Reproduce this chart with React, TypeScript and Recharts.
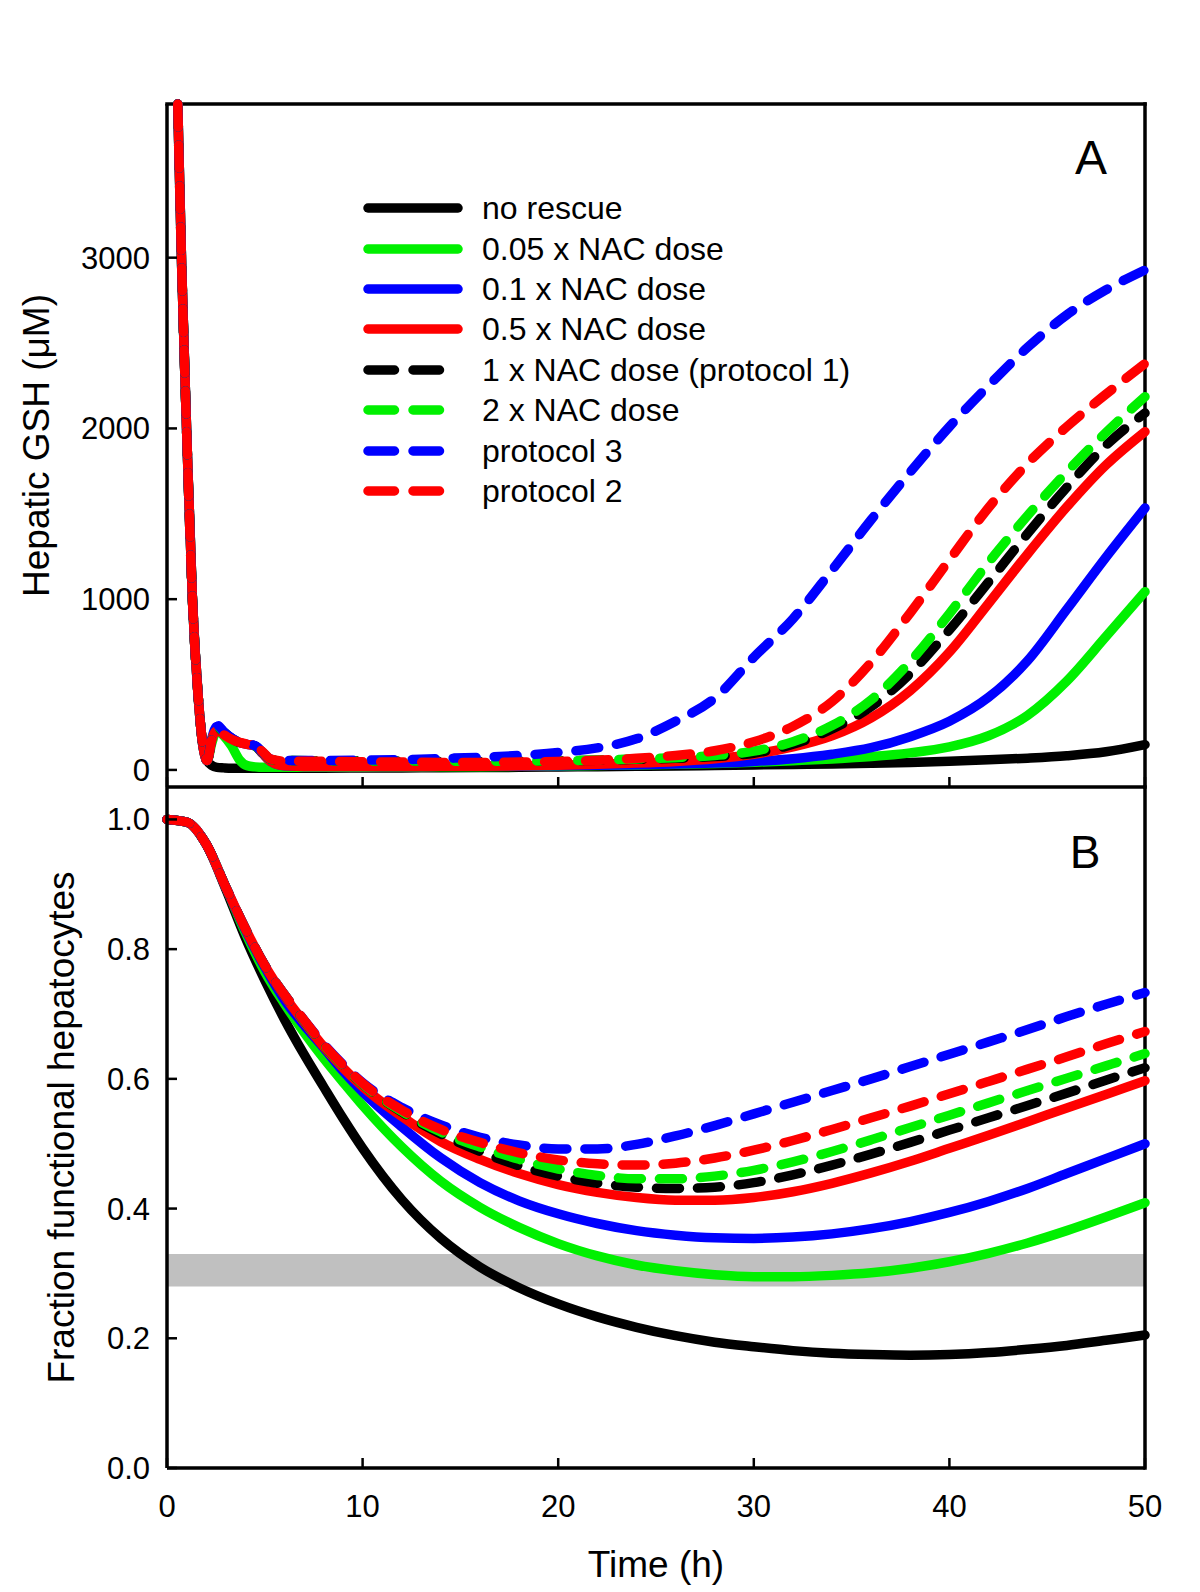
import React from "react";
import {
  LineChart, Line, XAxis, YAxis, ReferenceLine, ReferenceArea,
  Legend, Label, Customized,
} from "recharts";

const FONT = "'Liberation Sans', Arial, Helvetica, sans-serif";

// Panel A: hepatic GSH (uM) vs time (h)
const timeA = [
  0.55, 0.75, 1.0, 1.3, 1.6, 1.85, 2.05, 2.3, 2.55, 2.9, 3.3, 3.7, 4.1, 4.5, 4.9, 5.3,
  6, 8, 10, 12, 14, 16, 18, 20, 22, 24, 26, 28, 30, 32, 34, 36, 38, 40, 42, 44, 46, 48, 50,
];
const gshNoRescue = [
  3900, 2950, 2000, 1000, 420, 130, 55, 25, 15, 12, 10, 10, 10, 10, 10, 10,
  10, 10, 11, 12, 13, 14, 15, 17, 19, 21, 23, 26, 29, 32, 35, 39, 44, 51, 59, 69, 83, 106, 148,
];
const gshNac005 = [
  3900, 2950, 2000, 1000, 420, 130, 55, 160, 235, 200, 140, 60, 25, 18, 15, 15,
  15, 15, 16, 17, 18, 19, 21, 23, 26, 29, 33, 38, 45, 54, 64, 78, 100, 135, 200, 320, 520, 780, 1044,
];
const gshNac01 = [
  3900, 2950, 2000, 1000, 420, 130, 55, 190, 255, 220, 185, 160, 150, 140, 95, 50,
  25, 20, 20, 20, 21, 22, 23, 25, 27, 30, 34, 40, 50, 66, 92, 130, 195, 285, 425, 640, 940, 1245, 1534,
];
const gshNac05 = [
  3900, 2950, 2000, 1000, 420, 130, 55, 185, 230, 210, 180, 160, 150, 140, 95, 50,
  25, 20, 20, 20, 21, 22, 24, 28, 33, 40, 50, 66, 92, 135, 200, 305, 465, 690, 975, 1265, 1540, 1785, 1981,
];
const gshNac1 = [
  3900, 2950, 2000, 1000, 420, 130, 55, 190, 250, 220, 185, 160, 150, 140, 100, 62,
  55, 54, 53, 52, 51, 51, 52, 54, 57, 62, 68, 78, 98, 150, 240, 370, 565, 820, 1100, 1385, 1655, 1900, 2090,
];
const gshNac2 = [
  3900, 2950, 2000, 1000, 420, 130, 55, 195, 255, 222, 185, 160, 150, 140, 100, 62,
  55, 54, 53, 52, 51, 51, 52, 54, 58, 64, 72, 85, 110, 165, 260, 410, 635, 915, 1215, 1490, 1745, 1975, 2186,
];
const gshProt3 = [
  3900, 2950, 2000, 1000, 420, 130, 55, 195, 262, 225, 188, 162, 152, 142, 102, 64,
  56, 55, 57, 60, 67, 74, 85, 102, 129, 182, 285, 420, 660, 885, 1170, 1465, 1745, 2010, 2250, 2475, 2665, 2811, 2928,
];
const gshProt2 = [
  3900, 2950, 2000, 1000, 420, 130, 55, 180, 222, 205, 180, 162, 152, 145, 105, 64,
  52, 50, 48, 46, 44, 44, 46, 49, 56, 68, 85, 112, 165, 255, 400, 630, 920, 1230, 1535, 1795, 2010, 2200, 2380,
];

// Panel B: fraction of functional hepatocytes vs time (h)
const timeB = [
  0, 1, 2, 3, 4, 5, 6, 7, 8, 9, 10, 12, 14, 16, 18, 20, 22, 24, 26, 28, 30,
  32, 34, 36, 38, 40, 42, 44, 46, 48, 50,
];
const fracNoRescue = [
  1.0, 0.996, 0.962, 0.893, 0.818, 0.752, 0.692, 0.638, 0.588, 0.539, 0.493,
  0.414, 0.354, 0.310, 0.278, 0.253, 0.233, 0.217, 0.204, 0.194, 0.187,
  0.181, 0.177, 0.175, 0.174, 0.175, 0.178, 0.183, 0.189, 0.197, 0.205,
];
const fracNac005 = [
  1.0, 0.996, 0.962, 0.896, 0.826, 0.765, 0.716, 0.672, 0.632, 0.595, 0.559,
  0.495, 0.442, 0.402, 0.371, 0.346, 0.327, 0.313, 0.304, 0.298, 0.295,
  0.295, 0.297, 0.301, 0.308, 0.318, 0.331, 0.347, 0.366, 0.387, 0.409,
];
const fracNac01 = [
  1.0, 0.996, 0.962, 0.896, 0.830, 0.772, 0.722, 0.683, 0.648, 0.612, 0.580,
  0.526, 0.478, 0.440, 0.412, 0.392, 0.377, 0.366, 0.359, 0.355, 0.354,
  0.356, 0.361, 0.369, 0.380, 0.394, 0.411, 0.431, 0.454, 0.477, 0.500,
];
const fracNac05 = [
  1.0, 0.996, 0.962, 0.896, 0.832, 0.775, 0.728, 0.688, 0.650, 0.617, 0.588,
  0.542, 0.503, 0.476, 0.454, 0.437, 0.425, 0.417, 0.413, 0.413, 0.417,
  0.426, 0.439, 0.455, 0.473, 0.493, 0.513, 0.534, 0.555, 0.576, 0.597,
];
const fracNac1 = [
  1.0, 0.996, 0.962, 0.896, 0.832, 0.775, 0.730, 0.690, 0.652, 0.620, 0.592,
  0.549, 0.515, 0.488, 0.466, 0.450, 0.439, 0.433, 0.431, 0.433, 0.440,
  0.452, 0.467, 0.484, 0.502, 0.521, 0.540, 0.559, 0.578, 0.598, 0.617,
];
const fracNac2 = [
  1.0, 0.996, 0.962, 0.896, 0.832, 0.775, 0.730, 0.690, 0.652, 0.620, 0.592,
  0.550, 0.518, 0.495, 0.476, 0.461, 0.451, 0.446, 0.446, 0.450, 0.459,
  0.472, 0.488, 0.506, 0.525, 0.544, 0.563, 0.582, 0.601, 0.620, 0.639,
];
const fracProt3 = [
  1.0, 0.996, 0.962, 0.896, 0.832, 0.775, 0.730, 0.691, 0.654, 0.622, 0.594,
  0.556, 0.529, 0.510, 0.498, 0.492, 0.492, 0.499, 0.512, 0.528, 0.546,
  0.564, 0.582, 0.600, 0.619, 0.638, 0.657, 0.676, 0.696, 0.715, 0.733,
];
const fracProt2 = [
  1.0, 0.996, 0.962, 0.896, 0.832, 0.775, 0.730, 0.691, 0.653, 0.621, 0.593,
  0.552, 0.522, 0.502, 0.486, 0.475, 0.469, 0.467, 0.470, 0.478, 0.490,
  0.505, 0.522, 0.540, 0.558, 0.577, 0.596, 0.615, 0.634, 0.654, 0.673,
];

const xTicks = [0, 10, 20, 30, 40, 50];
const gshTicks = [0, 1000, 2000, 3000];
const fracTicks = [0, 0.2, 0.4, 0.6, 0.8, 1.0];

// drawn in this order, so protocol 2 ends up on top
const series = [
  { key: "noRescue", name: "no rescue", color: "#000000", dashed: false, a: gshNoRescue, b: fracNoRescue },
  { key: "nac005", name: "0.05 x NAC dose", color: "#00f000", dashed: false, a: gshNac005, b: fracNac005 },
  { key: "nac01", name: "0.1 x NAC dose", color: "#0000ff", dashed: false, a: gshNac01, b: fracNac01 },
  { key: "nac05", name: "0.5 x NAC dose", color: "#ff0000", dashed: false, a: gshNac05, b: fracNac05 },
  { key: "nac1", name: "1 x NAC dose (protocol 1)", color: "#000000", dashed: true, a: gshNac1, b: fracNac1 },
  { key: "nac2", name: "2 x NAC dose", color: "#00f000", dashed: true, a: gshNac2, b: fracNac2 },
  { key: "prot3", name: "protocol 3", color: "#0000ff", dashed: true, a: gshProt3, b: fracProt3 },
  { key: "prot2", name: "protocol 2", color: "#ff0000", dashed: true, a: gshProt2, b: fracProt2 },
];

const dataA = timeA.map((t, i) => {
  const row: Record<string, number> = { t };
  series.forEach((s) => { row[s.key] = s.a[i]; });
  return row;
});
const dataB = timeB.map((t, i) => {
  const row: Record<string, number> = { t };
  series.forEach((s) => { row[s.key] = s.b[i]; });
  return row;
});

const LINE_W = 9.5;
const FRAME_W = 3.5;
const tickStyle = { fill: "#000", fontSize: 31, fontFamily: FONT };
const titleStyle = { textAnchor: "middle" as const, fontSize: 37, fontFamily: FONT, fill: "#000" };

function LegendBox() {
  return (
    <div style={{ fontFamily: FONT, fontSize: 32, color: "#000" }}>
      {series.map((s) => (
        <div key={s.key} style={{ display: "flex", alignItems: "center", height: 40.4 }}>
          <svg width={127} height={40} style={{ display: "block", flex: "none" }}>
            <line
              x1={13} x2={s.dashed ? 85 : 103} y1={20} y2={20}
              stroke={s.color} strokeWidth={LINE_W} strokeLinecap="round"
              strokeDasharray={s.dashed ? "26.5 18.5" : undefined}
            />
          </svg>
          <span style={{ lineHeight: "40px", whiteSpace: "nowrap" }}>{s.name}</span>
        </div>
      ))}
    </div>
  );
}

function curves() {
  return series.map((s) => (
    <Line
      key={s.key}
      type="monotone"
      dataKey={s.key}
      name={s.name}
      stroke={s.color}
      strokeWidth={LINE_W}
      strokeDasharray={s.dashed ? "23 18" : undefined}
      strokeLinecap="round"
      strokeLinejoin="round"
      dot={false}
      activeDot={false}
      isAnimationActive={false}
    />
  ));
}

export default function App() {
  return (
    <div style={{ position: "absolute", left: 0, top: 0, width: 1200, height: 1592, background: "#fff" }}>
      {/* Panel A */}
      <div style={{ position: "absolute", left: 0, top: 0 }}>
        <LineChart width={1200} height={800} data={dataA} margin={{ top: 104, right: 55, bottom: 0, left: 0 }}>
          <XAxis
            dataKey="t" type="number" domain={[0, 50]} ticks={xTicks} interval={0}
            height={13} tickSize={-10}
            tick={{ fontSize: 1, fill: "none" }} tickFormatter={() => ""}
            axisLine={{ stroke: "#000", strokeWidth: FRAME_W }}
            tickLine={{ stroke: "#000", strokeWidth: 2.5 }}
          />
          <YAxis
            type="number" domain={[-100, 3900]} ticks={gshTicks} interval={0}
            width={167} tickSize={-10} tickMargin={27}
            tick={tickStyle}
            axisLine={{ stroke: "#000", strokeWidth: FRAME_W }}
            tickLine={{ stroke: "#000", strokeWidth: 2.5 }}
          >
            <Label value="Hepatic GSH (μM)" angle={-90} position="insideLeft" offset={36} style={titleStyle} />
          </YAxis>
          <ReferenceLine y={3900} stroke="#000" strokeWidth={FRAME_W} strokeLinecap="square" />
          <ReferenceLine x={50} stroke="#000" strokeWidth={FRAME_W} strokeLinecap="square" />
          {curves()}
          <Legend
            content={<LegendBox />}
            layout="vertical" align="center" verticalAlign="middle"
            wrapperStyle={{ position: "absolute", left: 355, top: 188, width: 520, height: 330 }}
          />
          <Customized
            component={() => (
              <text x={1091} y={174} textAnchor="middle" fontSize={48} fontFamily={FONT} fill="#000">A</text>
            )}
          />
        </LineChart>
      </div>

      {/* Panel B */}
      <div style={{ position: "absolute", left: 0, top: 775 }}>
        <LineChart width={1200} height={817} data={dataB} margin={{ top: 12, right: 55, bottom: 0, left: 0 }}>
          <ReferenceArea y1={0.28} y2={0.33} fill="#c0c0c0" fillOpacity={1} stroke="none" />
          <XAxis
            dataKey="t" type="number" domain={[0, 50]} ticks={xTicks} interval={0}
            height={124} tickSize={-10} tickMargin={37}
            tick={tickStyle}
            axisLine={{ stroke: "#000", strokeWidth: FRAME_W }}
            tickLine={{ stroke: "#000", strokeWidth: 2.5 }}
          >
            <Label value="Time (h)" position="insideBottom" offset={15} style={titleStyle} />
          </XAxis>
          <YAxis
            type="number" domain={[0, 1.05]} ticks={fracTicks} interval={0}
            width={167} tickSize={-10} tickMargin={27}
            tick={tickStyle}
            tickFormatter={(v: number) => v.toFixed(1)}
            axisLine={{ stroke: "#000", strokeWidth: FRAME_W }}
            tickLine={{ stroke: "#000", strokeWidth: 2.5 }}
          >
            <Label value="Fraction functional hepatocytes" angle={-90} position="insideLeft" offset={61} style={titleStyle} />
          </YAxis>
          <ReferenceLine x={50} stroke="#000" strokeWidth={FRAME_W} strokeLinecap="square" />
          {curves()}
          <Customized
            component={() => (
              <text x={1085} y={93} textAnchor="middle" fontSize={46} fontFamily={FONT} fill="#000">B</text>
            )}
          />
        </LineChart>
      </div>
    </div>
  );
}
